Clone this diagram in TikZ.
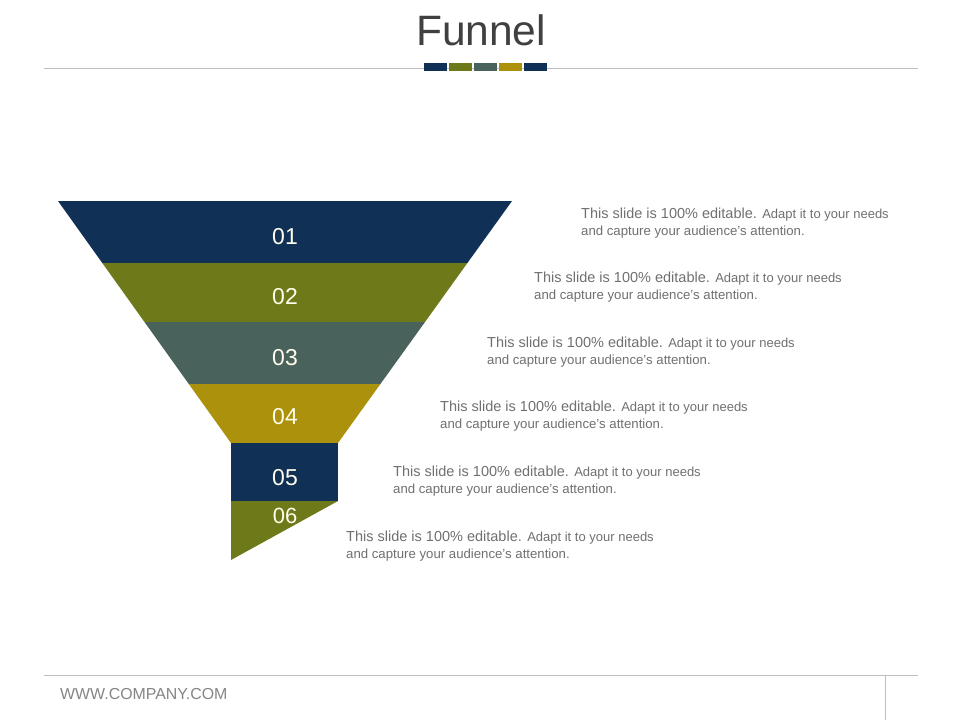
\documentclass[tikz,border=0pt]{standalone}
\usepackage{fontspec}
\setmainfont{Liberation Sans}
\definecolor{fnavy}{RGB}{16,48,86}
\definecolor{folive}{RGB}{110,122,26}
\definecolor{fslate}{RGB}{74,98,92}
\definecolor{fgold}{RGB}{172,146,12}
\definecolor{ftxt}{RGB}{112,112,112}
\definecolor{fline}{RGB}{190,190,190}
\definecolor{ftitle}{RGB}{64,64,64}
\definecolor{flabel}{RGB}{255,253,236}
\tikzset{
  numlabel/.style={text=flabel, inner sep=0pt, font=\fontsize{23}{23}\selectfont},
  desc/.style={text=ftxt, anchor=base west, inner sep=0pt},
  rule/.style={draw=fline, line width=1pt},
}
\begin{document}
\begin{tikzpicture}[x=1pt,y=-1pt]
\useasboundingbox (0,0) rectangle (960,720);
\fill[white] (0,0) rectangle (960,720);
% title
\node[text=ftitle, anchor=base, inner sep=0pt, font=\fontsize{42.5}{42.5}\selectfont] (title) at (481,45) {Funnel};
\draw[rule] (44,68) -- (918,68);
\fill[fnavy]  (424,63) rectangle (447,71);
\fill[folive] (449,63) rectangle (472,71);
\fill[fslate] (474,63) rectangle (497,71);
\fill[fgold]  (499,63) rectangle (522,71);
\fill[fnavy]  (524,63) rectangle (547,71);
% funnel bands
\fill[fnavy]  (58,201) -- (512,201) -- (467.4,263) -- (102.3,263) -- cycle;
\fill[folive] (102.3,263) -- (467.4,263) -- (425,322) -- (144.5,322) -- cycle;
\fill[fslate] (144.5,322) -- (425,322) -- (380.4,384) -- (188.8,384) -- cycle;
\fill[fgold]  (188.8,384) -- (380.4,384) -- (338,443) -- (231,443) -- cycle;
\fill[fnavy]  (231,443) rectangle (338,501);
\fill[folive] (231,501) -- (338,501) -- (231,560) -- cycle;
% labels
\node[numlabel] (n1) at (285,236.5) {01};
\node[numlabel] (n2) at (285,297) {02};
\node[numlabel] (n3) at (285,357.5) {03};
\node[numlabel] (n4) at (285,417) {04};
\node[numlabel] (n5) at (285,477.5) {05};
\node[numlabel, font=\fontsize{22}{22}\selectfont] (n6) at (285,516) {06};
% descriptions
\foreach \i in {0,...,5} {
  \pgfmathsetmacro{\xx}{581-47*\i}
  \pgfmathsetmacro{\yy}{218+64.6*\i}
  \node[desc] (ta\i) at (\xx,\yy) {\fontsize{14.5}{17}\selectfont This slide is 100\% editable. \fontsize{13}{17}\selectfont Adapt it to your needs};
  \node[desc] (tb\i) at (\xx,\yy+17) {\fontsize{13.2}{17}\selectfont and capture your audience's attention.};
}
% footer
\draw[rule] (44,675) -- (918,675);
\draw[rule] (885,675) -- (885,720);
\node[text=ftxt!85, anchor=base west, inner sep=0pt, font=\fontsize{15.9}{15.9}\selectfont] (url) at (60,699) {WWW.COMPANY.COM};
\end{tikzpicture}
\end{document}
